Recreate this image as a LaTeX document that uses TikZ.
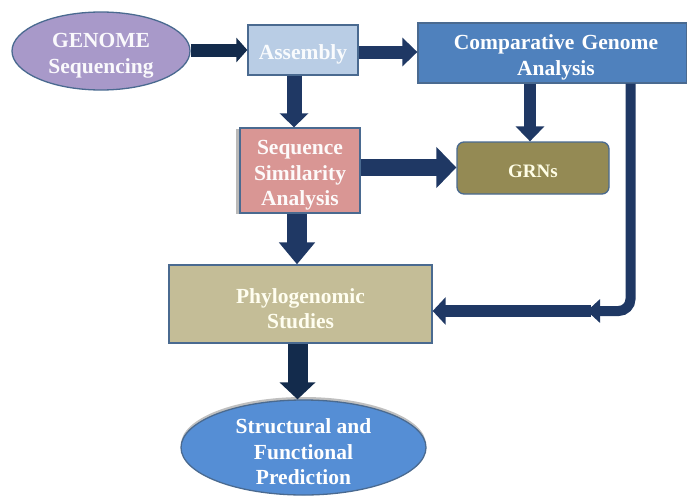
\documentclass[tikz,border=0pt]{standalone}
\usepackage{fontspec}
\setmainfont{Liberation Serif}
\usetikzlibrary{arrows.meta,shapes.geometric,shadows}
\definecolor{navy}{HTML}{1F3864}
\definecolor{navyd}{HTML}{132B4C}
\definecolor{bordc}{HTML}{4A6A90}
\definecolor{genc}{HTML}{A899C9}
\definecolor{asmc}{HTML}{B9CDE5}
\definecolor{cmpc}{HTML}{4F81BD}
\definecolor{seqc}{HTML}{D99694}
\definecolor{grnc}{HTML}{948A54}
\definecolor{phyc}{HTML}{C4BD97}
\definecolor{strc}{HTML}{558ED5}
\newcommand\dnstrut{\rule{0pt}{24pt}}
\tikzset{
  box/.style={draw=bordc, line width=1.3pt, align=center, inner sep=2pt,
    font=\bfseries\fontsize{21.5}{25.5}\selectfont},
  fat/.style n args={3}{draw=navy, line width=#1,
    -{Triangle[width=#2, length=#3, fill=navy]}},
}
\begin{document}
\begin{tikzpicture}[x=1pt,y=-1pt]
\useasboundingbox (0,0) rectangle (687,498);
% nodes
\node[box, ellipse, inner sep=0pt, fill=genc, text=white!94!genc, minimum width=178pt, minimum height=78pt] (gen) at (101,51) {\dnstrut GENOME\\Sequencing};
\node[box, rectangle, fill=asmc, text=white!92!asmc, minimum width=110pt, minimum height=50pt] (asm) at (303,50) {\dnstrut Assembly};
\node[box, rectangle, fill=cmpc, text=white, minimum width=269pt, minimum height=60pt, text width=265pt] (cmp) at (552.5,53) {\dnstrut\hspace*{7pt}Comparative Genome\\\hspace*{7pt}Analysis};
\node[box, rectangle, fill=seqc, text=white!95!seqc, minimum width=120pt, minimum height=85pt,
  general shadow={fill=gray!55, shadow xshift=-4pt, shadow yshift=-1pt}] (seq) at (300,170.5) {\dnstrut Sequence\\Similarity\\Analysis};
\node[box, rectangle, rounded corners=7pt, fill=grnc, text=yellow!10!white, minimum width=152pt, minimum height=52pt, font=\bfseries\fontsize{19}{23}\selectfont] (grn) at (533,168) {\rule{0pt}{20pt}GRNs};
\node[box, rectangle, fill=phyc, text=yellow!6!white, minimum width=263pt, minimum height=78pt] (phy) at (300.5,304) {\dnstrut Phylogenomic\\Studies};
\node[box, ellipse, fill=strc, text=white, minimum width=245pt, minimum height=95pt, inner xsep=0pt, inner ysep=-8pt,
  general shadow={fill=gray!50, shadow xshift=0pt, shadow yshift=3pt}] (str) at (303.5,447.5) {\dnstrut Structural and\\Functional\\Prediction};
% connectors
\coordinate (bend) at (587,311);
\draw[fat={13pt}{24pt}{11pt}, draw=navyd, -{Triangle[width=24pt, length=11pt, fill=navyd]}] ([yshift=1pt]gen.east) -- ([yshift=1pt]gen.east -| asm.west);
\draw[fat={13pt}{28pt}{15pt}] ([yshift=-2pt]asm.east) -- ([yshift=-2pt]asm.east -| cmp.west);
\draw[fat={15pt}{28pt}{14pt}] ([xshift=-9pt]asm.south) -- ([xshift=-9pt]asm.south |- seq.north);
\draw[fat={12pt}{28pt}{15pt}] ([xshift=-3pt]grn.north |- cmp.south) -- ([xshift=-3pt]grn.north);
\draw[fat={17pt}{40pt}{20pt}] ([yshift=3pt]seq.east) -- ([yshift=3pt]seq.east -| grn.west);
\draw[fat={20pt}{35pt}{22pt}] ([xshift=-3pt]seq.south) -- ([xshift=-3pt]seq.south |- phy.north);
\draw[fat={20pt}{35pt}{17pt}, draw=navyd, -{Triangle[width=35pt, length=17pt, fill=navyd]}] ([xshift=-3pt]phy.south) -- ([xshift=-3pt]phy.south |- str.north);
\draw[fat={12pt}{27pt}{13pt}] ([xshift=4pt]bend) -- (bend -| phy.east);
\draw[fat={10pt}{23pt}{13pt}, rounded corners=12pt] ([xshift=78pt]cmp.south) |- (bend);
\end{tikzpicture}
\end{document}
